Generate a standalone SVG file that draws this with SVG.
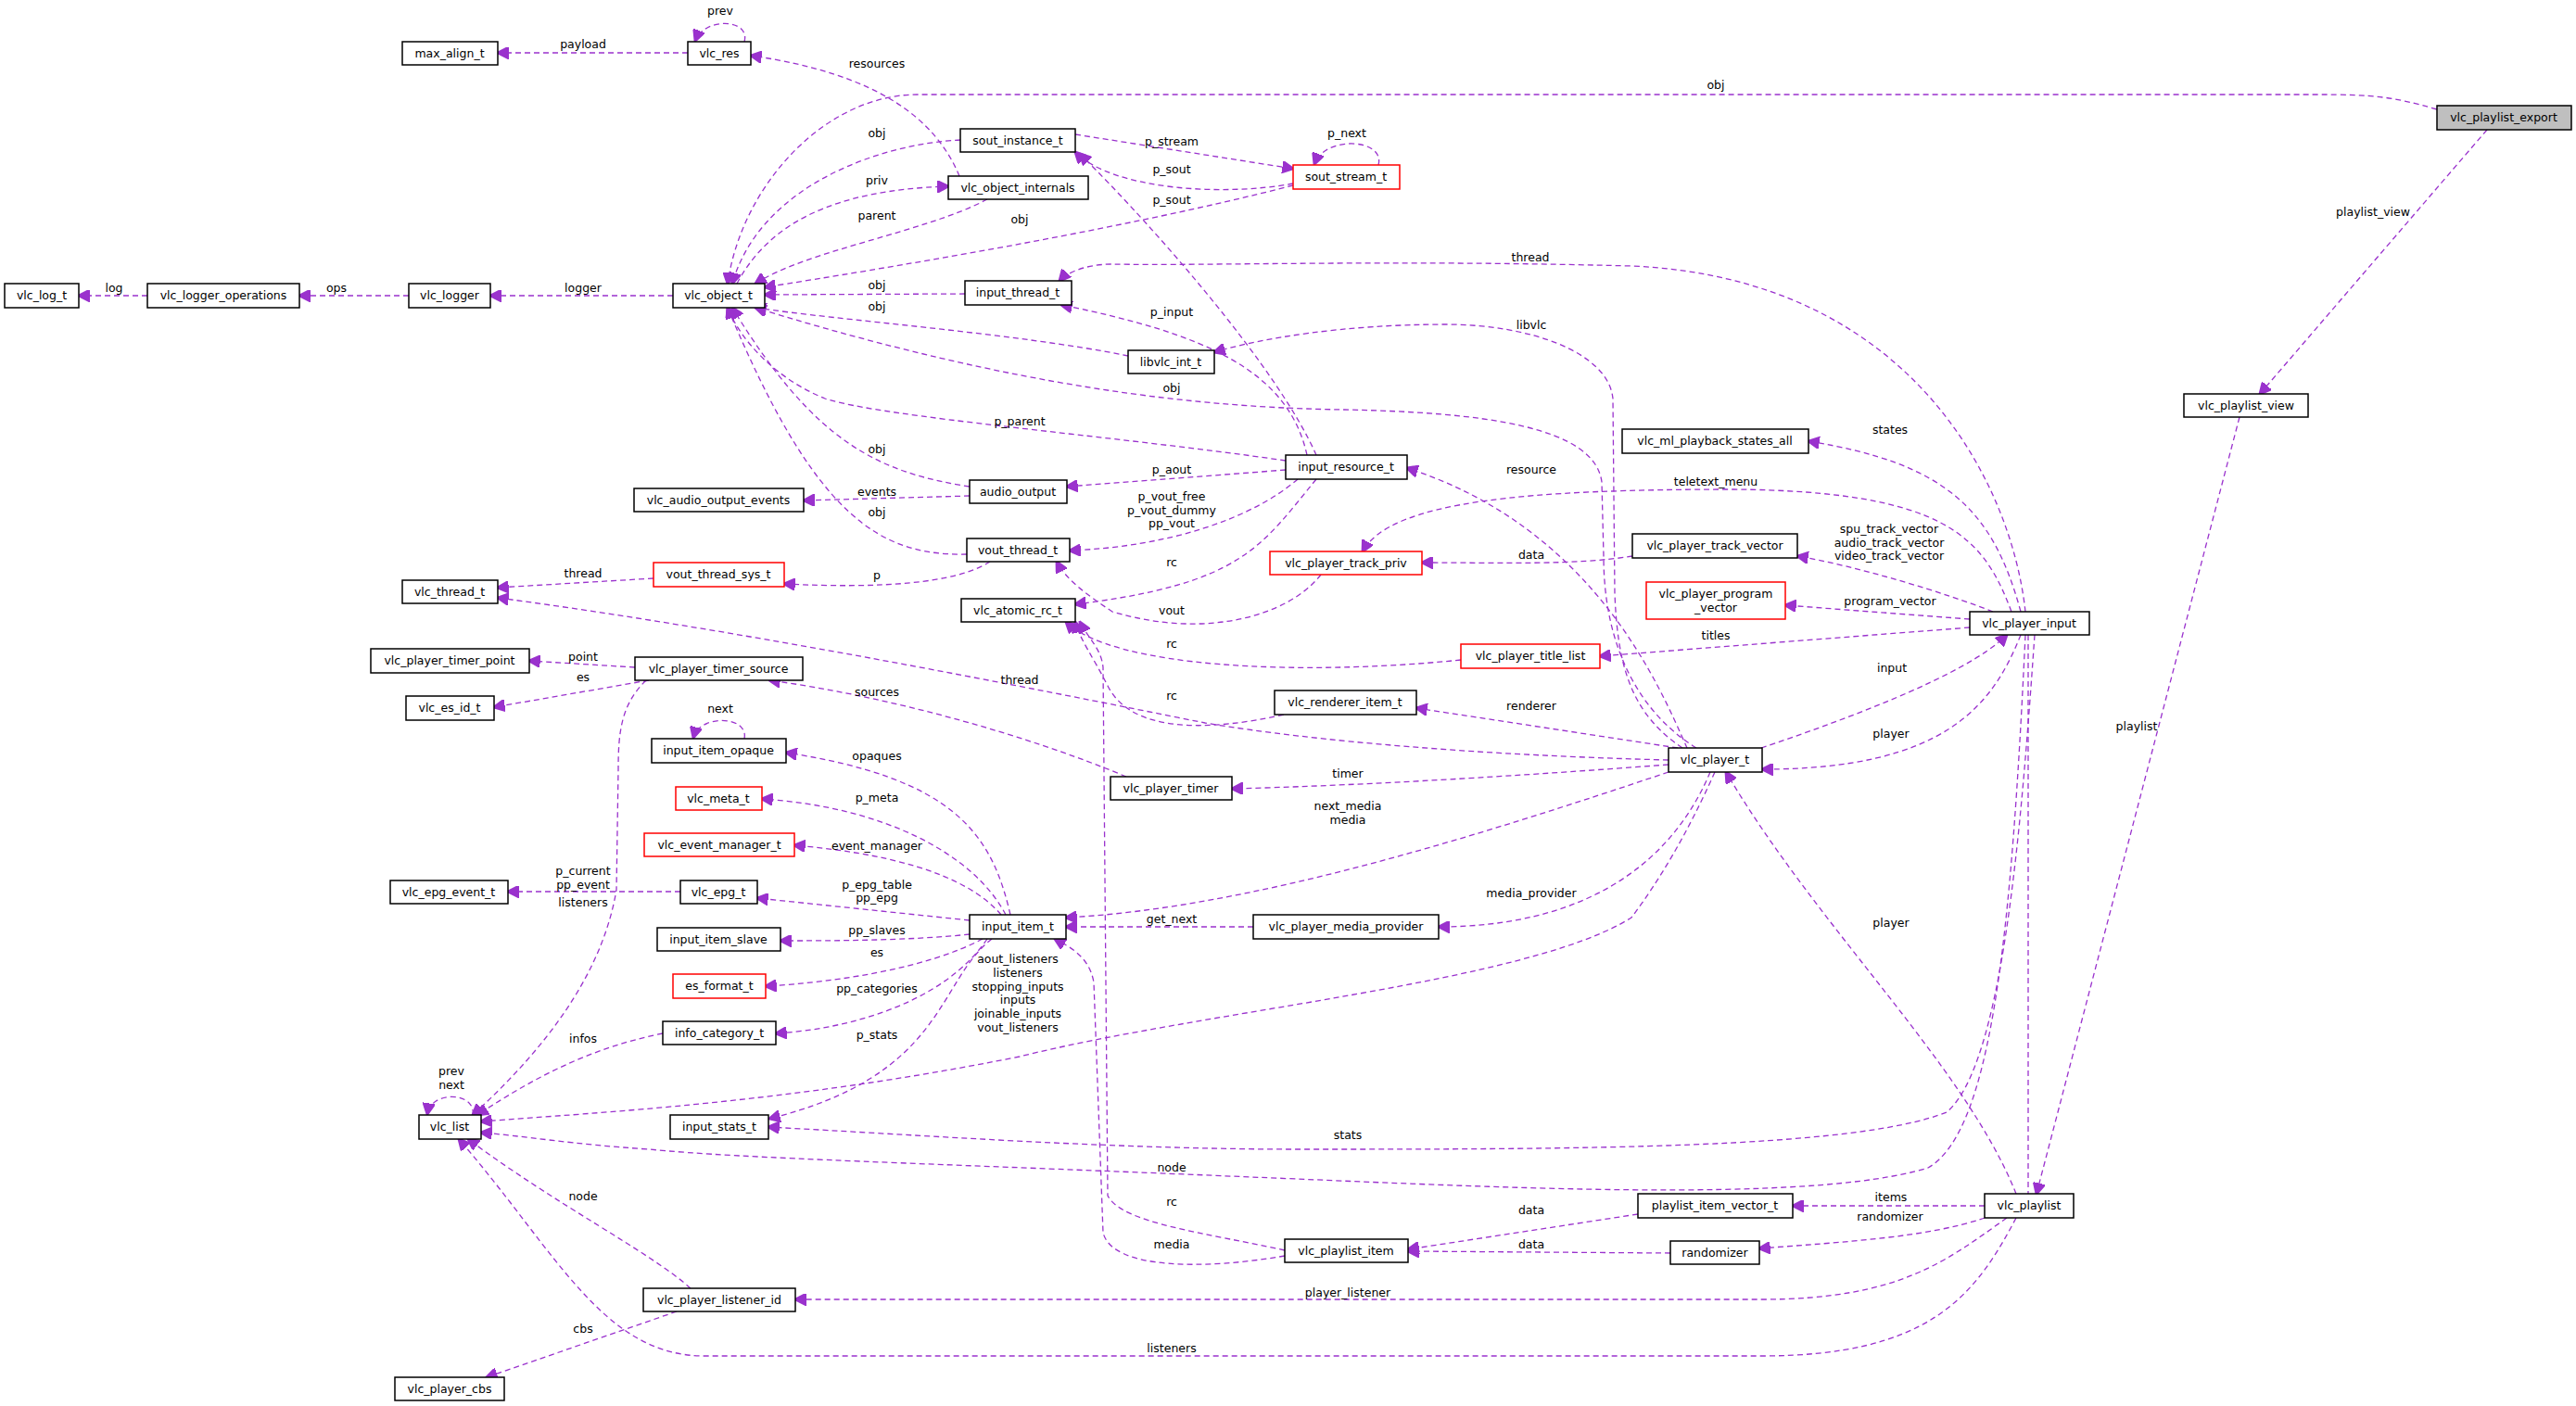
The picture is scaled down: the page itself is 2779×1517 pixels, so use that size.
<svg xmlns="http://www.w3.org/2000/svg" width="2779" height="1517" viewBox="0 0 2779 1517">
<style>
rect{fill:#fff;stroke:#000;stroke-width:1.5}
.r rect{stroke:#f00}
.g rect{fill:#bfbfbf}
text{font-family:"DejaVu Sans",sans-serif;font-size:12.5px;fill:#000}
.n text{text-anchor:middle}
.l{text-anchor:middle}
path{fill:none;stroke:#9a32cd;stroke-width:1.3;stroke-dasharray:6,4;marker-end:url(#a)}
</style>
<defs><marker id="a" viewBox="0 0 10 10" refX="9" refY="5" markerWidth="13" markerHeight="13" markerUnits="userSpaceOnUse" orient="auto"><path d="M0,0L10,5L0,10z" style="fill:#9a32cd;stroke:#9a32cd;stroke-dasharray:none;marker-end:none"/></marker></defs>
<g id="edges">
<path d="M742,57L537,57"/>
<path d="M803,45C810,20 760,18 750,44"/>
<path d="M1035,190C1010,130 950,80 810,60"/>
<path d="M2629,118C2580,104 2560,102 2500,102L990,102C890,102 800,200 785,306"/>
<path d="M1036,151C950,155 820,200 790,306"/>
<path d="M795,306C830,240 900,205 1023,201"/>
<path d="M1065,215C1000,250 870,270 815,306"/>
<path d="M1395,200C1200,250 950,290 825,310"/>
<path d="M1160,145L1395,182"/>
<path d="M1395,198C1320,212 1200,205 1160,164"/>
<path d="M1420,491C1380,400 1250,250 1165,166"/>
<path d="M1487,178C1495,150 1430,145 1418,177"/>
<path d="M159,319L85,319"/>
<path d="M441,319L323,319"/>
<path d="M726,319L529,319"/>
<path d="M1041,317L825,318"/>
<path d="M1217,384C1100,360 900,345 815,332"/>
<path d="M1410,491C1390,400 1300,360 1145,329"/>
<path d="M1815,807C1760,770 1745,720 1742,640L1740,430C1735,380 1650,350 1560,350C1450,350 1360,365 1310,380"/>
<path d="M1830,807C1770,770 1730,700 1730,600L1728,520C1720,460 1600,445 1450,442C1300,440 1100,420 815,332"/>
<path d="M1387,497C1200,470 950,450 890,430C840,410 800,370 785,332"/>
<path d="M1046,525C950,510 880,480 790,332"/>
<path d="M1387,507L1151,525"/>
<path d="M1046,535L867,540"/>
<path d="M1043,598C950,600 880,560 785,332"/>
<path d="M1400,517C1350,560 1260,590 1154,594"/>
<path d="M1068,606C1030,630 950,635 846,630"/>
<path d="M705,624L537,634"/>
<path d="M1420,517C1360,590 1340,630 1160,652"/>
<path d="M1425,620C1390,665 1300,690 1200,660C1170,640 1150,625 1140,606"/>
<path d="M1576,712C1400,730 1200,720 1150,671"/>
<path d="M1385,771C1300,790 1220,790 1195,740C1180,710 1165,690 1160,671"/>
<path d="M1386,1349C1300,1330 1210,1320 1195,1290L1190,720C1188,700 1175,690 1165,671"/>
<path d="M1386,1355C1300,1370 1200,1370 1190,1330L1180,1060C1175,1030 1150,1020 1138,1013"/>
<path d="M685,720L571,713"/>
<path d="M700,734L533,763"/>
<path d="M697,734C670,760 667,790 667,830L665,960C650,1050 590,1130 510,1203"/>
<path d="M1800,820C1600,815 1420,800 1300,780C1100,740 800,680 537,645"/>
<path d="M1215,838C1100,790 950,750 830,734"/>
<path d="M803,797C808,772 755,770 748,796"/>
<path d="M1090,987C1070,900 1030,840 848,812"/>
<path d="M1085,987C1050,920 950,870 822,862"/>
<path d="M1080,987C1040,940 950,920 857,912"/>
<path d="M734,962L548,962"/>
<path d="M1046,993L817,969"/>
<path d="M1352,1000L1150,1000"/>
<path d="M1046,1008C980,1015 900,1015 842,1015"/>
<path d="M1060,1013C1000,1045 900,1060 826,1064"/>
<path d="M1065,1013C1020,1080 920,1110 837,1115"/>
<path d="M1070,1013C1010,1060 1020,1160 830,1207"/>
<path d="M1850,833C1820,900 1790,950 1760,990C1650,1060 1300,1090 1100,1140C850,1190 650,1200 519,1210"/>
<path d="M715,1115C640,1130 580,1160 515,1203"/>
<path d="M510,1203C514,1178 465,1176 461,1202"/>
<path d="M2195,685C2180,900 2160,1150 2100,1200C2000,1240 1700,1240 1400,1240C1200,1240 1000,1225 829,1216"/>
<path d="M2185,685C2170,1000 2150,1220 2080,1260C1950,1300 1600,1280 1350,1270C1000,1255 800,1250 700,1240C620,1235 560,1225 519,1222"/>
<path d="M745,1390C700,1350 600,1300 505,1229"/>
<path d="M730,1415L525,1486"/>
<path d="M2165,1314C2100,1360 2050,1402 1900,1402L858,1402"/>
<path d="M2175,1314C2130,1400 2080,1463 1900,1463L760,1463C650,1463 600,1350 495,1229"/>
<path d="M2141,1301L1934,1301"/>
<path d="M2141,1314C2080,1335 1990,1340 1898,1347"/>
<path d="M1767,1310L1519,1348"/>
<path d="M1802,1352L1519,1350"/>
<path d="M2175,1288C2120,1150 1960,1000 1862,833"/>
<path d="M2416,450L2197,1288"/>
<path d="M2683,140L2438,425"/>
<path d="M2180,685C2150,760 2100,830 1901,830"/>
<path d="M1900,807C1980,780 2120,730 2165,685"/>
<path d="M2125,677L1726,708"/>
<path d="M2125,668L1926,653"/>
<path d="M2150,660C2100,640 2000,610 1939,600"/>
<path d="M1761,600C1700,610 1620,607 1534,607"/>
<path d="M2170,660C2140,580 2100,530 1870,528C1650,528 1500,540 1470,595"/>
<path d="M2180,660C2150,550 2100,500 1951,476"/>
<path d="M2185,660C2170,520 2060,300 1760,287C1500,280 1300,287 1200,285C1170,285 1150,295 1143,303"/>
<path d="M1820,807C1790,740 1720,570 1518,505"/>
<path d="M1810,807L1528,764"/>
<path d="M1800,825C1600,840 1450,848 1329,851"/>
<path d="M1800,833C1600,900 1350,980 1150,990"/>
<path d="M1845,833C1800,940 1700,1000 1552,1000"/>
<path d="M2188,685L2188,1288" style="marker-end:none"/>
</g>
<g id="labels">
<text class="l" x="777" y="16">prev</text><text class="l" x="629" y="52">payload</text><text class="l" x="946" y="73">resources</text>
<text class="l" x="1851" y="96">obj</text><text class="l" x="946" y="148">obj</text><text class="l" x="946" y="199">priv</text>
<text class="l" x="946" y="237">parent</text><text class="l" x="1100" y="241">obj</text><text class="l" x="1264" y="157">p_stream</text>
<text class="l" x="1264" y="187">p_sout</text><text class="l" x="1264" y="220">p_sout</text><text class="l" x="1453" y="148">p_next</text>
<text class="l" x="123" y="315">log</text><text class="l" x="363" y="315">ops</text><text class="l" x="629" y="315">logger</text>
<text class="l" x="946" y="312">obj</text><text class="l" x="946" y="335">obj</text><text class="l" x="1264" y="341">p_input</text>
<text class="l" x="1264" y="423">obj</text><text class="l" x="1100" y="459">p_parent</text><text class="l" x="946" y="489">obj</text>
<text class="l" x="1264" y="511">p_aout</text><text class="l" x="946" y="535">events</text><text class="l" x="946" y="557">obj</text>
<text class="l" x="1264" y="540">p_vout_free</text><text class="l" x="1264" y="555">p_vout_dummy</text><text class="l" x="1264" y="569">pp_vout</text>
<text class="l" x="1264" y="611">rc</text><text class="l" x="629" y="623">thread</text><text class="l" x="946" y="625">p</text>
<text class="l" x="1264" y="663">vout</text><text class="l" x="1264" y="699">rc</text><text class="l" x="629" y="713">point</text>
<text class="l" x="629" y="735">es</text><text class="l" x="1100" y="738">thread</text><text class="l" x="946" y="751">sources</text>
<text class="l" x="1264" y="755">rc</text><text class="l" x="2560" y="233">playlist_view</text><text class="l" x="1651" y="282">thread</text>
<text class="l" x="1652" y="355">libvlc</text><text class="l" x="2039" y="468">states</text><text class="l" x="1652" y="511">resource</text>
<text class="l" x="1851" y="524">teletext_menu</text><text class="l" x="2038" y="575">spu_track_vector</text><text class="l" x="2038" y="590">audio_track_vector</text>
<text class="l" x="2038" y="604">video_track_vector</text><text class="l" x="1652" y="603">data</text><text class="l" x="2039" y="653">program_vector</text>
<text class="l" x="1851" y="690">titles</text><text class="l" x="2041" y="725">input</text><text class="l" x="777" y="769">next</text>
<text class="l" x="946" y="820">opaques</text><text class="l" x="946" y="865">p_meta</text><text class="l" x="946" y="917">event_manager</text>
<text class="l" x="629" y="944">p_current</text><text class="l" x="629" y="959">pp_event</text><text class="l" x="629" y="978">listeners</text>
<text class="l" x="946" y="959">p_epg_table</text><text class="l" x="946" y="973">pp_epg</text><text class="l" x="1264" y="996">get_next</text>
<text class="l" x="946" y="1008">pp_slaves</text><text class="l" x="946" y="1032">es</text>
<text class="l" x="1098" y="1039">aout_listeners</text><text class="l" x="1098" y="1054">listeners</text><text class="l" x="1098" y="1069">stopping_inputs</text>
<text class="l" x="1098" y="1083">inputs</text><text class="l" x="1098" y="1098">joinable_inputs</text><text class="l" x="1098" y="1113">vout_listeners</text>
<text class="l" x="946" y="1071">pp_categories</text><text class="l" x="629" y="1125">infos</text><text class="l" x="946" y="1121">p_stats</text>
<text class="l" x="487" y="1160">prev</text><text class="l" x="487" y="1175">next</text><text class="l" x="1264" y="1264">node</text>
<text class="l" x="629" y="1295">node</text><text class="l" x="1264" y="1301">rc</text><text class="l" x="1264" y="1347">media</text>
<text class="l" x="629" y="1438">cbs</text><text class="l" x="1264" y="1459">listeners</text><text class="l" x="1652" y="766">renderer</text>
<text class="l" x="2040" y="796">player</text><text class="l" x="2305" y="788">playlist</text><text class="l" x="1454" y="839">timer</text>
<text class="l" x="1454" y="874">next_media</text><text class="l" x="1454" y="889">media</text><text class="l" x="1652" y="968">media_provider</text>
<text class="l" x="2040" y="1000">player</text><text class="l" x="1454" y="1229">stats</text><text class="l" x="2040" y="1296">items</text>
<text class="l" x="2039" y="1317">randomizer</text><text class="l" x="1652" y="1310">data</text><text class="l" x="1652" y="1347">data</text>
<text class="l" x="1454" y="1399">player_listener</text>
</g>
<g id="vlc_playlist_export" class="n g"><rect x="2629" y="114" width="145" height="26"/><text x="2701" y="131">vlc_playlist_export</text></g>
<g id="vlc_object_t" class="n"><rect x="726" y="306" width="99" height="26"/><text x="775" y="323">vlc_object_t</text></g>
<g id="vlc_res" class="n"><rect x="742" y="45" width="68" height="25"/><text x="776" y="62">vlc_res</text></g>
<g id="max_align_t" class="n"><rect x="434" y="45" width="103" height="25"/><text x="485" y="62">max_align_t</text></g>
<g id="vlc_log_t" class="n"><rect x="5" y="306" width="80" height="26"/><text x="45" y="323">vlc_log_t</text></g>
<g id="vlc_logger_operations" class="n"><rect x="159" y="306" width="164" height="26"/><text x="241" y="323">vlc_logger_operations</text></g>
<g id="vlc_logger" class="n"><rect x="441" y="306" width="88" height="26"/><text x="485" y="323">vlc_logger</text></g>
<g id="sout_instance_t" class="n"><rect x="1036" y="139" width="124" height="25"/><text x="1098" y="156">sout_instance_t</text></g>
<g id="vlc_object_internals" class="n"><rect x="1023" y="190" width="151" height="25"/><text x="1098" y="207">vlc_object_internals</text></g>
<g id="input_thread_t" class="n"><rect x="1041" y="303" width="115" height="26"/><text x="1098" y="320">input_thread_t</text></g>
<g id="libvlc_int_t" class="n"><rect x="1217" y="378" width="93" height="25"/><text x="1263" y="395">libvlc_int_t</text></g>
<g id="audio_output" class="n"><rect x="1046" y="518" width="105" height="25"/><text x="1098" y="535">audio_output</text></g>
<g id="vlc_audio_output_events" class="n"><rect x="684" y="527" width="183" height="25"/><text x="775" y="544">vlc_audio_output_events</text></g>
<g id="vout_thread_t" class="n"><rect x="1043" y="581" width="111" height="25"/><text x="1098" y="598">vout_thread_t</text></g>
<g id="vout_thread_sys_t" class="n r"><rect x="705" y="607" width="141" height="26"/><text x="775" y="624">vout_thread_sys_t</text></g>
<g id="vlc_thread_t" class="n"><rect x="434" y="626" width="103" height="25"/><text x="485" y="643">vlc_thread_t</text></g>
<g id="vlc_atomic_rc_t" class="n"><rect x="1037" y="646" width="123" height="25"/><text x="1098" y="663">vlc_atomic_rc_t</text></g>
<g id="vlc_player_timer_point" class="n"><rect x="400" y="700" width="171" height="26"/><text x="485" y="717">vlc_player_timer_point</text></g>
<g id="vlc_player_timer_source" class="n"><rect x="685" y="709" width="181" height="25"/><text x="775" y="726">vlc_player_timer_source</text></g>
<g id="input_resource_t" class="n"><rect x="1387" y="491" width="131" height="26"/><text x="1452" y="508">input_resource_t</text></g>
<g id="sout_stream_t" class="n r"><rect x="1395" y="178" width="115" height="26"/><text x="1452" y="195">sout_stream_t</text></g>
<g id="vlc_playlist_view" class="n"><rect x="2356" y="425" width="134" height="25"/><text x="2423" y="442">vlc_playlist_view</text></g>
<g id="vlc_ml_playback_states_all" class="n"><rect x="1750" y="463" width="201" height="26"/><text x="1850" y="480">vlc_ml_playback_states_all</text></g>
<g id="vlc_player_track_priv" class="n r"><rect x="1370" y="595" width="164" height="25"/><text x="1452" y="612">vlc_player_track_priv</text></g>
<g id="vlc_player_track_vector" class="n"><rect x="1761" y="576" width="178" height="26"/><text x="1850" y="593">vlc_player_track_vector</text></g>
<g id="vlc_player_program_vector" class="n r"><rect x="1776" y="628" width="150" height="40"/><text x="1851" y="645">vlc_player_program</text><text x="1851" y="660">_vector</text></g>
<g id="vlc_player_input" class="n"><rect x="2125" y="660" width="129" height="25"/><text x="2189" y="677">vlc_player_input</text></g>
<g id="vlc_player_title_list" class="n r"><rect x="1576" y="695" width="150" height="26"/><text x="1651" y="712">vlc_player_title_list</text></g>
<g id="vlc_es_id_t" class="n"><rect x="438" y="751" width="95" height="26"/><text x="485" y="768">vlc_es_id_t</text></g>
<g id="input_item_opaque" class="n"><rect x="703" y="797" width="145" height="26"/><text x="775" y="814">input_item_opaque</text></g>
<g id="vlc_meta_t" class="n r"><rect x="729" y="849" width="93" height="25"/><text x="775" y="866">vlc_meta_t</text></g>
<g id="vlc_event_manager_t" class="n r"><rect x="695" y="899" width="162" height="25"/><text x="776" y="916">vlc_event_manager_t</text></g>
<g id="vlc_epg_event_t" class="n"><rect x="421" y="950" width="127" height="25"/><text x="484" y="967">vlc_epg_event_t</text></g>
<g id="vlc_epg_t" class="n"><rect x="734" y="950" width="83" height="25"/><text x="775" y="967">vlc_epg_t</text></g>
<g id="input_item_t" class="n"><rect x="1046" y="987" width="104" height="26"/><text x="1098" y="1004">input_item_t</text></g>
<g id="input_item_slave" class="n"><rect x="709" y="1001" width="133" height="25"/><text x="775" y="1018">input_item_slave</text></g>
<g id="es_format_t" class="n r"><rect x="726" y="1051" width="100" height="26"/><text x="776" y="1068">es_format_t</text></g>
<g id="info_category_t" class="n"><rect x="715" y="1102" width="122" height="25"/><text x="776" y="1119">info_category_t</text></g>
<g id="vlc_list" class="n"><rect x="452" y="1203" width="67" height="26"/><text x="485" y="1220">vlc_list</text></g>
<g id="input_stats_t" class="n"><rect x="723" y="1203" width="106" height="26"/><text x="776" y="1220">input_stats_t</text></g>
<g id="vlc_player_listener_id" class="n"><rect x="694" y="1390" width="164" height="25"/><text x="776" y="1407">vlc_player_listener_id</text></g>
<g id="vlc_player_cbs" class="n"><rect x="426" y="1486" width="118" height="25"/><text x="485" y="1503">vlc_player_cbs</text></g>
<g id="vlc_player_timer" class="n"><rect x="1198" y="838" width="131" height="25"/><text x="1263" y="855">vlc_player_timer</text></g>
<g id="vlc_renderer_item_t" class="n"><rect x="1375" y="745" width="153" height="26"/><text x="1451" y="762">vlc_renderer_item_t</text></g>
<g id="vlc_player_t" class="n"><rect x="1800" y="807" width="101" height="26"/><text x="1850" y="824">vlc_player_t</text></g>
<g id="vlc_player_media_provider" class="n"><rect x="1352" y="987" width="200" height="26"/><text x="1452" y="1004">vlc_player_media_provider</text></g>
<g id="playlist_item_vector_t" class="n"><rect x="1767" y="1288" width="167" height="26"/><text x="1850" y="1305">playlist_item_vector_t</text></g>
<g id="vlc_playlist" class="n"><rect x="2141" y="1288" width="96" height="26"/><text x="2189" y="1305">vlc_playlist</text></g>
<g id="vlc_playlist_item" class="n"><rect x="1386" y="1337" width="133" height="25"/><text x="1452" y="1354">vlc_playlist_item</text></g>
<g id="randomizer" class="n"><rect x="1802" y="1339" width="96" height="25"/><text x="1850" y="1356">randomizer</text></g>
</svg>
